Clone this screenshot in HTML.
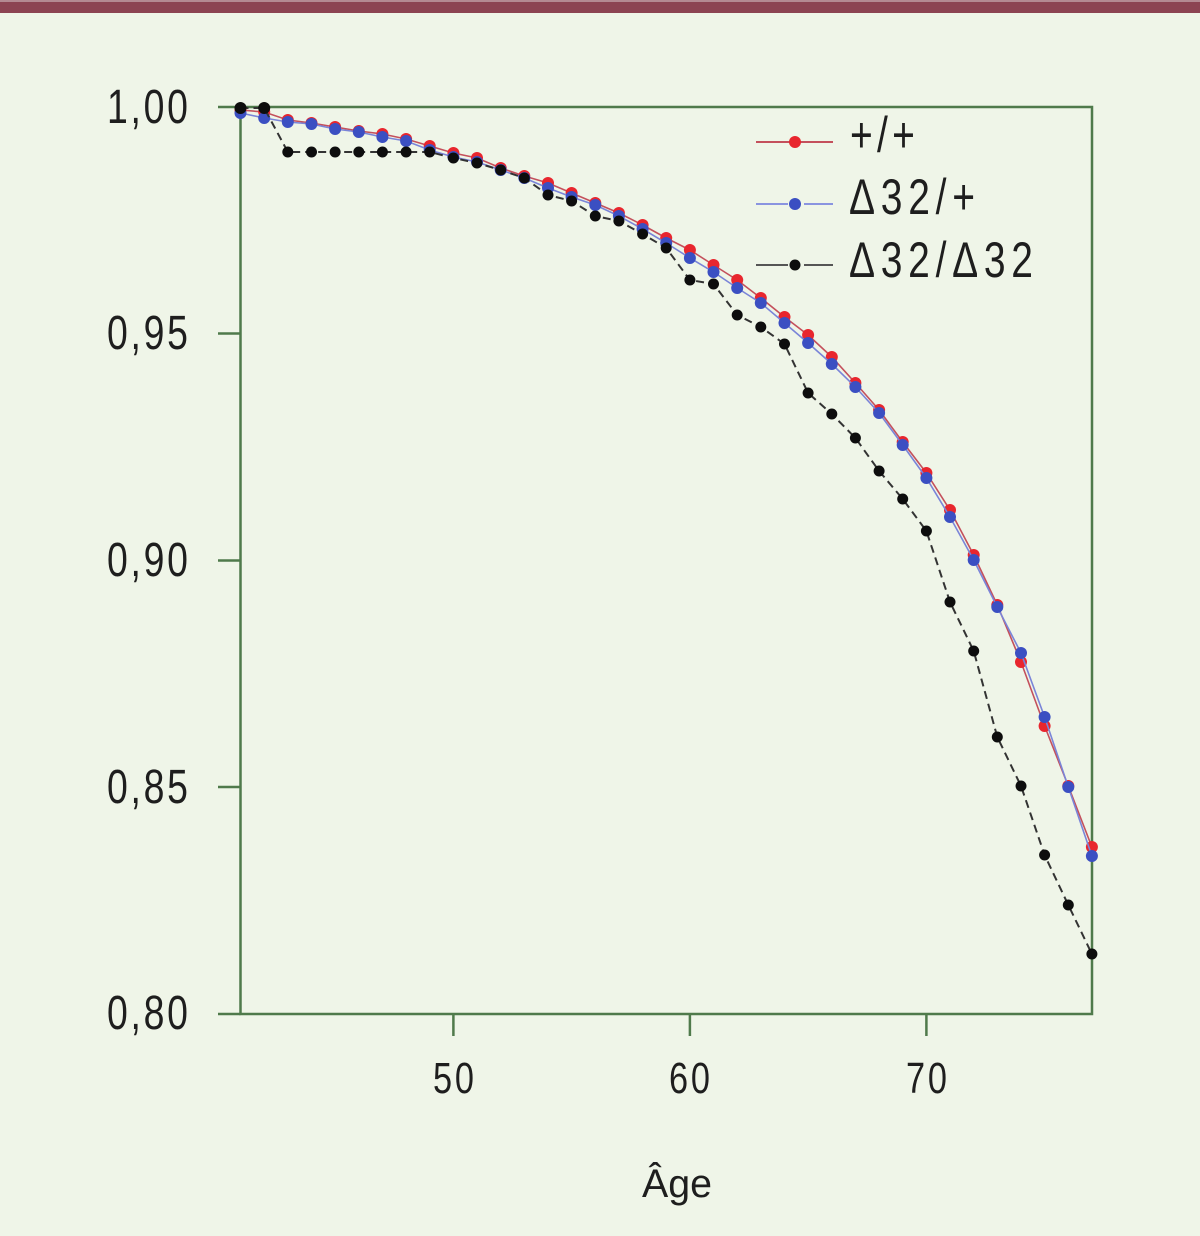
<!DOCTYPE html>
<html>
<head>
<meta charset="utf-8">
<style>
  html,body{margin:0;padding:0;background:#eff5e8;}
  svg{display:block;}
  .tk{font-family:"Liberation Sans",sans-serif;fill:#1e1e1e;}
</style>
</head>
<body>
<svg width="1200" height="1236" viewBox="0 0 1200 1236" xmlns="http://www.w3.org/2000/svg">
  <rect x="0" y="0" width="1200" height="1236" fill="#eff5e8"/>
  <rect x="0" y="0" width="1200" height="13" fill="#8c4452"/>
  <rect x="0" y="0" width="1200" height="2" fill="#b48a92"/>

  <!-- axes frame -->
  <g stroke="#4f7a4b" stroke-width="2.5" fill="none">
    <rect x="240.5" y="107" width="851.5" height="907"/>
    <line x1="218" y1="107" x2="240.5" y2="107"/>
    <line x1="218" y1="333.5" x2="240.5" y2="333.5"/>
    <line x1="218" y1="560.5" x2="240.5" y2="560.5"/>
    <line x1="218" y1="787" x2="240.5" y2="787"/>
    <line x1="218" y1="1014" x2="240.5" y2="1014"/>
    <line x1="453.4" y1="1014" x2="453.4" y2="1036"/>
    <line x1="689.9" y1="1014" x2="689.9" y2="1036"/>
    <line x1="926.4" y1="1014" x2="926.4" y2="1036"/>
  </g>

  <!-- y tick labels -->
  <g class="tk" font-size="48">
    <text transform="translate(107,123) scale(0.78,1)" x="0" y="0" textLength="103.8" lengthAdjust="spacing">1,00</text>
    <text transform="translate(107,349) scale(0.78,1)" x="0" y="0" textLength="103.8" lengthAdjust="spacing">0,95</text>
    <text transform="translate(107,576) scale(0.78,1)" x="0" y="0" textLength="103.8" lengthAdjust="spacing">0,90</text>
    <text transform="translate(107,803) scale(0.78,1)" x="0" y="0" textLength="103.8" lengthAdjust="spacing">0,85</text>
    <text transform="translate(107,1029) scale(0.78,1)" x="0" y="0" textLength="103.8" lengthAdjust="spacing">0,80</text>
  </g>
  <!-- x tick labels -->
  <g class="tk" font-size="44">
    <text transform="translate(433,1093) scale(0.78,1)" x="0" y="0" textLength="52.6" lengthAdjust="spacing">50</text>
    <text transform="translate(669,1093) scale(0.78,1)" x="0" y="0" textLength="52.6" lengthAdjust="spacing">60</text>
    <text transform="translate(906,1093) scale(0.78,1)" x="0" y="0" textLength="52.6" lengthAdjust="spacing">70</text>
  </g>
  <text x="642" y="1197" font-family="Liberation Sans, sans-serif" font-size="40" fill="#1e1e1e" textLength="70" lengthAdjust="spacingAndGlyphs">Âge</text>

  <!-- red series +/+ -->
  <polyline fill="none" stroke="#c4505c" stroke-width="1.6" points="240.5,110 264.2,112 287.8,120 311.5,123 335.1,127 358.8,131 382.4,134 406.1,139 429.7,146 453.4,153 477.0,158 500.7,168 524.3,176 548.0,183 571.6,193 595.3,203 618.9,213 642.6,225 666.2,238 689.9,250 713.5,265 737.2,280 760.8,298 784.5,317 808.1,335 831.8,357 855.4,383 879.1,410 902.7,442 926.4,473 950.0,510 973.7,555 997.3,605 1021.0,662 1044.6,726 1068.3,786 1091.9,847"/>
  <g fill="#e8262e">
    <circle cx="240.5" cy="110" r="6"/><circle cx="264.2" cy="112" r="6"/><circle cx="287.8" cy="120" r="6"/><circle cx="311.5" cy="123" r="6"/><circle cx="335.1" cy="127" r="6"/><circle cx="358.8" cy="131" r="6"/><circle cx="382.4" cy="134" r="6"/><circle cx="406.1" cy="139" r="6"/><circle cx="429.7" cy="146" r="6"/><circle cx="453.4" cy="153" r="6"/><circle cx="477.0" cy="158" r="6"/><circle cx="500.7" cy="168" r="6"/><circle cx="524.3" cy="176" r="6"/><circle cx="548.0" cy="183" r="6"/><circle cx="571.6" cy="193" r="6"/><circle cx="595.3" cy="203" r="6"/><circle cx="618.9" cy="213" r="6"/><circle cx="642.6" cy="225" r="6"/><circle cx="666.2" cy="238" r="6"/><circle cx="689.9" cy="250" r="6"/><circle cx="713.5" cy="265" r="6"/><circle cx="737.2" cy="280" r="6"/><circle cx="760.8" cy="298" r="6"/><circle cx="784.5" cy="317" r="6"/><circle cx="808.1" cy="335" r="6"/><circle cx="831.8" cy="357" r="6"/><circle cx="855.4" cy="383" r="6"/><circle cx="879.1" cy="410" r="6"/><circle cx="902.7" cy="442" r="6"/><circle cx="926.4" cy="473" r="6"/><circle cx="950.0" cy="510" r="6"/><circle cx="973.7" cy="555" r="6"/><circle cx="997.3" cy="605" r="6"/><circle cx="1021.0" cy="662" r="6"/><circle cx="1044.6" cy="726" r="6"/><circle cx="1068.3" cy="786" r="6"/><circle cx="1091.9" cy="847" r="6"/>
  </g>

  <!-- blue series Δ32/+ -->
  <polyline fill="none" stroke="#7a84d8" stroke-width="1.6" points="240.5,113 264.2,118 287.8,122 311.5,124 335.1,129 358.8,132 382.4,137 406.1,141 429.7,150 453.4,157 477.0,162 500.7,170 524.3,178 548.0,188 571.6,197 595.3,205 618.9,216 642.6,229 666.2,243 689.9,258 713.5,272 737.2,288 760.8,303 784.5,323 808.1,343 831.8,364 855.4,387 879.1,413 902.7,445 926.4,478 950.0,517 973.7,560 997.3,607 1021.0,653 1044.6,717 1068.3,787 1091.9,856"/>
  <g fill="#3b4fc2">
    <circle cx="240.5" cy="113" r="6"/><circle cx="264.2" cy="118" r="6"/><circle cx="287.8" cy="122" r="6"/><circle cx="311.5" cy="124" r="6"/><circle cx="335.1" cy="129" r="6"/><circle cx="358.8" cy="132" r="6"/><circle cx="382.4" cy="137" r="6"/><circle cx="406.1" cy="141" r="6"/><circle cx="429.7" cy="150" r="6"/><circle cx="453.4" cy="157" r="6"/><circle cx="477.0" cy="162" r="6"/><circle cx="500.7" cy="170" r="6"/><circle cx="524.3" cy="178" r="6"/><circle cx="548.0" cy="188" r="6"/><circle cx="571.6" cy="197" r="6"/><circle cx="595.3" cy="205" r="6"/><circle cx="618.9" cy="216" r="6"/><circle cx="642.6" cy="229" r="6"/><circle cx="666.2" cy="243" r="6"/><circle cx="689.9" cy="258" r="6"/><circle cx="713.5" cy="272" r="6"/><circle cx="737.2" cy="288" r="6"/><circle cx="760.8" cy="303" r="6"/><circle cx="784.5" cy="323" r="6"/><circle cx="808.1" cy="343" r="6"/><circle cx="831.8" cy="364" r="6"/><circle cx="855.4" cy="387" r="6"/><circle cx="879.1" cy="413" r="6"/><circle cx="902.7" cy="445" r="6"/><circle cx="926.4" cy="478" r="6"/><circle cx="950.0" cy="517" r="6"/><circle cx="973.7" cy="560" r="6"/><circle cx="997.3" cy="607" r="6"/><circle cx="1021.0" cy="653" r="6"/><circle cx="1044.6" cy="717" r="6"/><circle cx="1068.3" cy="787" r="6"/><circle cx="1091.9" cy="856" r="6"/>
  </g>

  <!-- black series Δ32/Δ32 -->
  <polyline fill="none" stroke="#333" stroke-width="2" stroke-dasharray="8 5" points="240.5,108 264.2,108 287.8,152 311.5,152 335.1,152 358.8,152 382.4,152 406.1,152 429.7,152 453.4,158 477.0,163 500.7,170 524.3,178 548.0,195 571.6,201 595.3,216 618.9,221 642.6,234 666.2,248 689.9,280 713.5,284 737.2,315 760.8,327 784.5,344 808.1,393 831.8,414 855.4,438 879.1,471 902.7,499 926.4,531 950.0,602 973.7,651 997.3,737 1021.0,786 1044.6,855 1068.3,905 1091.9,954"/>
  <g fill="#0d0d0d">
    <circle cx="240.5" cy="108" r="6"/><circle cx="264.2" cy="108" r="6"/><circle cx="287.8" cy="152" r="5.5"/><circle cx="311.5" cy="152" r="5.5"/><circle cx="335.1" cy="152" r="5.5"/><circle cx="358.8" cy="152" r="5.5"/><circle cx="382.4" cy="152" r="5.5"/><circle cx="406.1" cy="152" r="5.5"/><circle cx="429.7" cy="152" r="5.5"/><circle cx="453.4" cy="158" r="5.5"/><circle cx="477.0" cy="163" r="5.5"/><circle cx="500.7" cy="170" r="5.5"/><circle cx="524.3" cy="178" r="5.5"/><circle cx="548.0" cy="195" r="5.5"/><circle cx="571.6" cy="201" r="5.5"/><circle cx="595.3" cy="216" r="5.5"/><circle cx="618.9" cy="221" r="5.5"/><circle cx="642.6" cy="234" r="5.5"/><circle cx="666.2" cy="248" r="5.5"/><circle cx="689.9" cy="280" r="5.5"/><circle cx="713.5" cy="284" r="5.5"/><circle cx="737.2" cy="315" r="5.5"/><circle cx="760.8" cy="327" r="5.5"/><circle cx="784.5" cy="344" r="5.5"/><circle cx="808.1" cy="393" r="5.5"/><circle cx="831.8" cy="414" r="5.5"/><circle cx="855.4" cy="438" r="5.5"/><circle cx="879.1" cy="471" r="5.5"/><circle cx="902.7" cy="499" r="5.5"/><circle cx="926.4" cy="531" r="5.5"/><circle cx="950.0" cy="602" r="5.5"/><circle cx="973.7" cy="651" r="5.5"/><circle cx="997.3" cy="737" r="5.5"/><circle cx="1021.0" cy="786" r="5.5"/><circle cx="1044.6" cy="855" r="5.5"/><circle cx="1068.3" cy="905" r="5.5"/><circle cx="1091.9" cy="954" r="5.5"/>
  </g>

  <!-- legend -->
  <line x1="756" y1="142" x2="833" y2="142" stroke="#c4505c" stroke-width="2"/>
  <circle cx="795" cy="142" r="6" fill="#e8262e"/>
  <line x1="756" y1="204" x2="788" y2="204" stroke="#8a94e0" stroke-width="2"/>
  <line x1="804" y1="204" x2="833" y2="204" stroke="#8a94e0" stroke-width="2"/>
  <circle cx="795" cy="204" r="6" fill="#3b4fc2"/>
  <line x1="756" y1="265" x2="788" y2="265" stroke="#555" stroke-width="2"/>
  <line x1="804" y1="265" x2="833" y2="265" stroke="#555" stroke-width="2"/>
  <circle cx="795" cy="265" r="5.5" fill="#0d0d0d"/>
  <g class="tk" font-size="50">
    <text transform="translate(850,152) scale(0.78,1)" x="0" y="0" textLength="83.3" lengthAdjust="spacing">+/+</text>
    <text transform="translate(849,214) scale(0.78,1)" x="0" y="0" textLength="161.5" lengthAdjust="spacing">Δ32/+</text>
    <text transform="translate(849,277) scale(0.78,1)" x="0" y="0" textLength="235.9" lengthAdjust="spacing">Δ32/Δ32</text>
  </g>
</svg>
</body>
</html>
